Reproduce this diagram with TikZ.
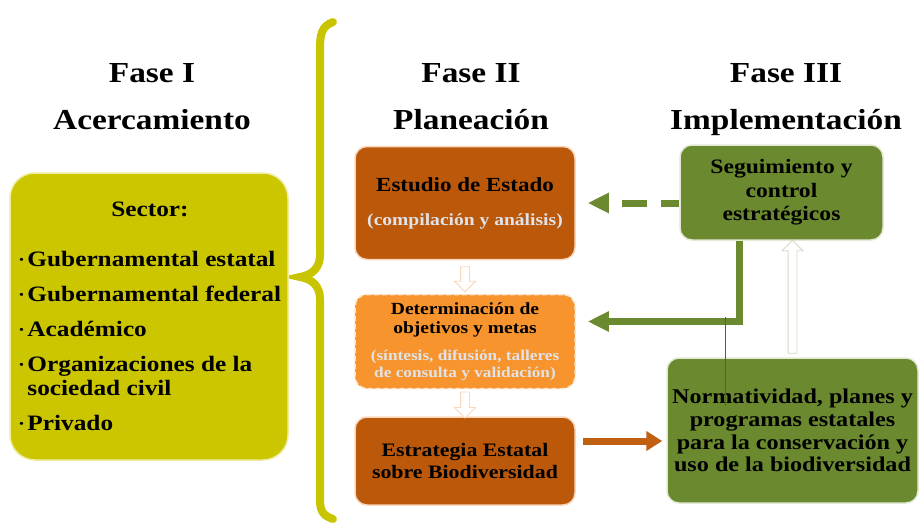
\documentclass[tikz,border=0pt]{standalone}
\usepackage{fontspec}
\setmainfont[FakeStretch=1.15]{Liberation Serif}
\usetikzlibrary{positioning}
\usetikzlibrary{calc}
\usetikzlibrary{arrows.meta}
\usetikzlibrary{shapes.arrows}
\definecolor{sectorcol}{RGB}{204,198,0}
\definecolor{bracecol}{RGB}{200,196,0}
\definecolor{estudiocol}{RGB}{187,88,10}
\definecolor{determcol}{RGB}{247,148,45}
\definecolor{verdecol}{RGB}{107,137,46}
\definecolor{flechacol}{RGB}{192,96,16}
\definecolor{grisclaro}{RGB}{224,228,234}
\definecolor{bordenaranja}{RGB}{250,214,186}
\definecolor{bordeamarillo}{RGB}{240,236,160}
\definecolor{bordeverde}{RGB}{226,233,212}
\definecolor{bordegris}{RGB}{212,218,196}
\definecolor{lineaverde}{RGB}{78,104,30}
\newcommand{\itemdot}{\makebox[8pt][l]{\fontsize{11}{11}\selectfont\raisebox{3pt}{•}}}

\begin{document}
\begin{tikzpicture}[x=1pt,y=-1pt,node distance=35pt,
  fase/.style={anchor=north,align=center,inner sep=0pt,font=\bfseries\fontsize{29}{47}\selectfont},
  caja/.style={rounded corners=12pt,line width=1.5pt,align=center,inner sep=2pt,minimum width=220pt},
  cajaverde/.style={caja,fill=verdecol,draw=bordeverde},
  hueca/.style={single arrow,draw=#1,fill=white,line width=0.8pt,inner xsep=0pt,inner ysep=4pt,single arrow head extend=6pt},
  flechaverde/.style={draw=verdecol,line width=7pt,-{Triangle[length=21pt,width=19pt]}},
  llave/.style={draw=bracecol,line width=8pt,line cap=round,preaction={draw=black!25,transform canvas={shift={(1.5pt,-1pt)}}}}]
  \useasboundingbox[fill=white] (0,0) rectangle (919,525);
  \node[fase](faseI) at (152,63) {Fase I\\Acercamiento};
  \node[fase](faseII) at (471,63) {Fase II\\Planeación};
  \node[fase](faseIII) at (786,63) {Fase III\\Implementación};
  \draw[llave] (333,22) .. controls (322,26) and (320,34) .. (320,48) -- (320,255)
     .. controls (320,268) and (312,275) .. (300,277) .. controls (312,279) and (320,286) .. (320,299)
     -- (320,500) .. controls (320,512) and (324,516) .. (333,519);
  \node[rounded corners=25pt,fill=sectorcol,draw=bordeamarillo,line width=1.5pt,minimum width=278pt,minimum height=287pt](sector) at (149,316.5) {};
  \node[font=\bfseries\fontsize{22}{22}\selectfont](sectortitulo) at ($(sector.north)+(1,37)$) {Sector:};
  \node[anchor=north west,align=left,inner sep=0pt,font=\bfseries\fontsize{22}{24}\selectfont](sectorlista) at ($(sector.north west)+(10,79)$)
    {\itemdot Gubernamental estatal\\[11pt]\itemdot Gubernamental federal\\[11pt]\itemdot Académico\\[11pt]\itemdot Organizaciones de la\\\phantom{\itemdot}sociedad civil\\[11pt]\itemdot Privado};
  \node[caja,fill=estudiocol,draw=bordenaranja,minimum height=113pt,font=\bfseries\fontsize{20}{34}\selectfont](estudio) at (465,203)
    {Estudio de Estado\\{\color{grisclaro}\fontsize{17}{17}\selectfont(compilación y análisis)}};
  \node[caja,below=33.5pt of estudio,fill=determcol,draw=white!75!determcol,dash pattern=on 5pt off 3pt,minimum height=94pt,font=\bfseries\fontsize{17}{19}\selectfont](determ)
    {Determinación de\\objetivos y metas\\[8pt]{\color{grisclaro}\fontsize{15}{15}\selectfont(síntesis, difusión, talleres}\\[-2pt]{\color{grisclaro}\fontsize{15}{15}\selectfont de consulta y validación)}};
  \node[caja,below=27pt of determ,fill=estudiocol,draw=bordenaranja,minimum height=88pt,font=\bfseries\fontsize{19}{22}\selectfont](estrat)
    {Estrategia Estatal\\sobre Biodiversidad};
  \node[cajaverde,minimum width=203pt,minimum height=95pt,font=\bfseries\fontsize{20.5}{23.5}\selectfont](seguim) at (781.5,192.5)
    {Seguimiento y\\control\\estratégicos};
  \node[cajaverde,minimum width=251pt,minimum height=145pt,font=\bfseries\fontsize{21}{22.7}\selectfont](normat) at (792.5,430.5)
    {Normatividad, planes y\\programas estatales\\para la conservación y\\uso de la biodiversidad};
  \node[hueca=bordenaranja,minimum height=25pt,rotate=-90](bajada1) at ($(estudio.south)!.5!(determ.north)$) {};
  \node[hueca=bordenaranja,minimum height=26pt,rotate=-90](bajada2) at ($(determ.south)!.5!(estrat.north)$) {};
  \node[hueca=bordegris,minimum height=113pt,rotate=90](subida) at ($(normat.north)!.5!(normat.north |- seguim.south)$) {};
  \draw[flechaverde,dash pattern=on 18pt off 14pt on 25pt off 20pt] (seguim.west |- estudio.east) -- ($(estudio.east)+(12,0)$);
  \draw[flechaverde] ($(seguim.south)+(-42.5,0)$) |- ($(determ.east)+(12,-20)$);
  \coordinate (naranja) at ($(estrat.east)+(7,-20)$);
  \draw[draw=flechacol,line width=7pt,-{Triangle[length=16pt,width=19pt]}] (naranja) -- ($(normat.west |- naranja)+(-4,0)$);
  \draw[lineaverde,line width=1.2pt] ($(normat.north west)+(59,-40)$) -- ($(normat.north west)+(59,49)$);
\end{tikzpicture}
\end{document}
